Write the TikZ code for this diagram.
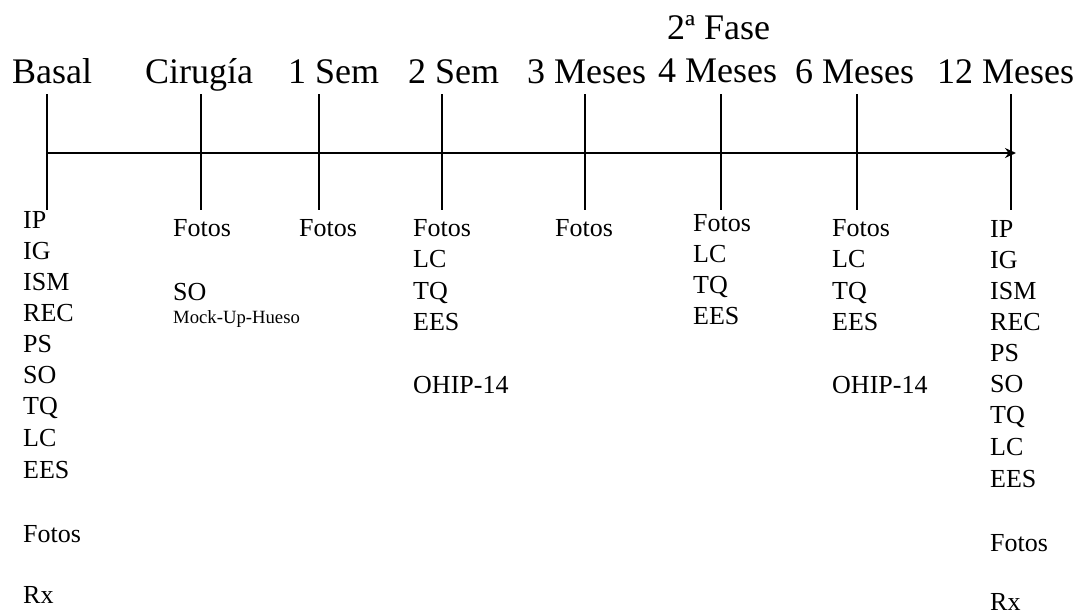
\documentclass[tikz,border=0pt]{standalone}
\usepackage{fontspec}
\setmainfont{Liberation Serif}
\usetikzlibrary{arrows.meta}
\begin{document}
\begin{tikzpicture}[x=1pt,y=-1pt,
  head/.style={anchor=base west,inner sep=0pt,font=\fontsize{36}{40}\selectfont},
  item/.style={anchor=base west,inner sep=0pt,font=\fontsize{26}{30}\selectfont},
  small/.style={anchor=base west,inner sep=0pt,font=\fontsize{18.7}{22}\selectfont},
  tick/.style={line width=1.1pt},
  axis/.style={line width=2.4pt,-{Stealth[length=11pt,width=10pt]}}]
\useasboundingbox (0,0) rectangle (1083,614);
% phase headings
\node[head] (hBasal) at (12,83) {Basal};
\node[head] (hCir) at (145,83) {Cirugía};
\node[head] (h1s) at (288,83) {1 Sem};
\node[head] (h2s) at (408,83) {2 Sem};
\node[head] (h3m) at (527,83) {3 Meses};
\node[head] (h4m) at (658,82) {4 Meses};
\node[head] (hFase) at (667,39) {2ª Fase};
\node[head] (h6m) at (795,83) {6 Meses};
\node[head] (h12m) at (937,83) {12 Meses};
% time marks
\foreach \n/\x in {t0/47,t1/201,t2/319,t3/442,t4/585,t5/721,t6/857,t7/1011}{
  \coordinate (\n-top) at (\x,94);
  \coordinate (\n-bot) at (\x,210);
  \draw[tick] (\n-top) -- (\n-bot);
}
\coordinate (axisEnd) at (1016,153);
\coordinate (axisStart) at (46.5,153);
\draw[axis] (axisStart) -- (axisEnd);
% baseline assessments
\foreach \t/\y [count=\i] in {IP/228,IG/259,ISM/290,REC/321,PS/352,SO/383,TQ/414,LC/446,EES/478,Fotos/542,Rx/603}
  \node[item] (b\i) at (23,\y) {\t};
% surgery
\node[item] (c1) at (173,236) {Fotos};
\node[item] (c2) at (173,300) {SO};
\node[small] (c3) at (173,323) {Mock-Up-Hueso};
% one week
\node[item] (s1) at (299,236) {Fotos};
% two weeks
\foreach \t/\y [count=\i] in {Fotos/236,LC/267,TQ/299,EES/330,OHIP-14/393}
  \node[item] (w\i) at (413,\y) {\t};
% three months
\node[item] (m3) at (555,236) {Fotos};
% four months
\foreach \t/\y [count=\i] in {Fotos/231,LC/262,TQ/293,EES/324}
  \node[item] (f\i) at (693,\y) {\t};
% six months
\foreach \t/\y [count=\i] in {Fotos/236,LC/267,TQ/299,EES/330,OHIP-14/393}
  \node[item] (x\i) at (832,\y) {\t};
% twelve months
\foreach \t/\y [count=\i] in {IP/237,IG/268,ISM/299,REC/330,PS/361,SO/392,TQ/423,LC/455,EES/487,Fotos/551,Rx/610}
  \node[item] (y\i) at (990,\y) {\t};
\end{tikzpicture}
\end{document}
